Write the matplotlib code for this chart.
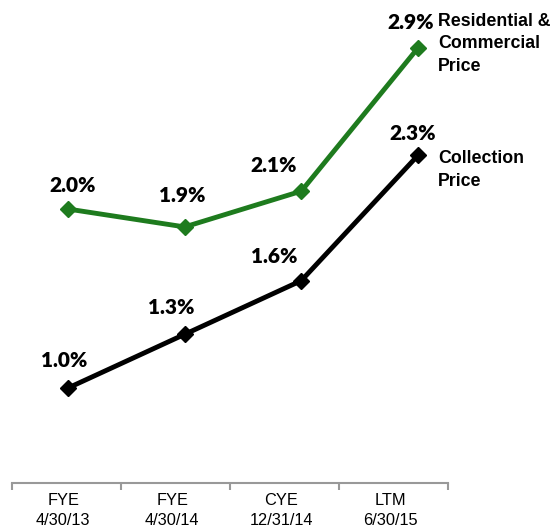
import matplotlib.pyplot as plt

# data
periods = ['FYE\n4/30/13', 'FYE\n4/30/14', 'CYE\n12/31/14', 'LTM\n6/30/15']
res_com = [2.0, 1.9, 2.1, 2.9]
collection = [1.0, 1.3, 1.6, 2.3]
res_com_lbl = ['2.0%', '1.9%', '2.1%', '2.9%']
collection_lbl = ['1.0%', '1.3%', '1.6%', '2.3%']

green = '#1e7b1e'

fig = plt.figure(figsize=(5.54, 5.31), dpi=100)

# top axes for the lines, spans whole figure
ax = fig.add_axes([0, 0, 1, 1])
ax.set_xlim(-0.583, 4.166)
ax.set_ylim(0.201, 3.168)
ax.axis('off')

x = range(len(periods))
ax.plot(x, res_com, color=green, lw=3.5, marker='D', ms=8, solid_joinstyle='round')
ax.plot(x, collection, color='black', lw=3.5, marker='D', ms=8, solid_joinstyle='round')

font = {'family': 'Lato', 'weight': 'heavy', 'size': 15}
off_g = [(5, 24), (-2, 31), (-28, 26), (-7, 25)]
off_b = [(-4, 28), (-13, 27), (-27, 24), (-5, 22)]
for i in x:
    ax.annotate(res_com_lbl[i], (i, res_com[i]), xytext=off_g[i], textcoords='offset pixels',
                ha='center', va='center', **font)
    ax.annotate(collection_lbl[i], (i, collection[i]), xytext=off_b[i], textcoords='offset pixels',
                ha='center', va='center', **font)

ax.text(438 / 554, 1 - 44 / 531, 'Residential &\nCommercial\nPrice', transform=fig.transFigure,
        ha='left', va='center', fontsize=12.8, fontweight='bold', family='Liberation Sans', linespacing=1.45)
ax.text(438 / 554, 1 - 170 / 531, 'Collection\nPrice', transform=fig.transFigure,
        ha='left', va='center', fontsize=12.8, fontweight='bold', family='Liberation Sans', linespacing=1.45)

# bottom category axis
bx = fig.add_axes([12 / 554, 0, (448 - 12) / 554, 1 - 483 / 531])
bx.set_xlim(0, 4)
bx.set_ylim(0, 1)
bx.patch.set_visible(False)
for s in ['left', 'right', 'bottom']:
    bx.spines[s].set_visible(False)
bx.spines['top'].set_color('#999999')
bx.spines['top'].set_linewidth(1.5)
bx.set_yticks([])
bx.xaxis.set_ticks_position('top')
bx.set_xticks([0, 1, 2, 3, 4])
bx.set_xticklabels([])
bx.tick_params(axis='x', direction='in', length=5, width=1.5, color='#999999')
for i, p in enumerate(periods):
    bx.text(i + 0.47, 0.42, p, ha='center', va='center', fontsize=11.8,
            family='Liberation Sans', linespacing=1.4)

fig.savefig('out.png', dpi=100)
